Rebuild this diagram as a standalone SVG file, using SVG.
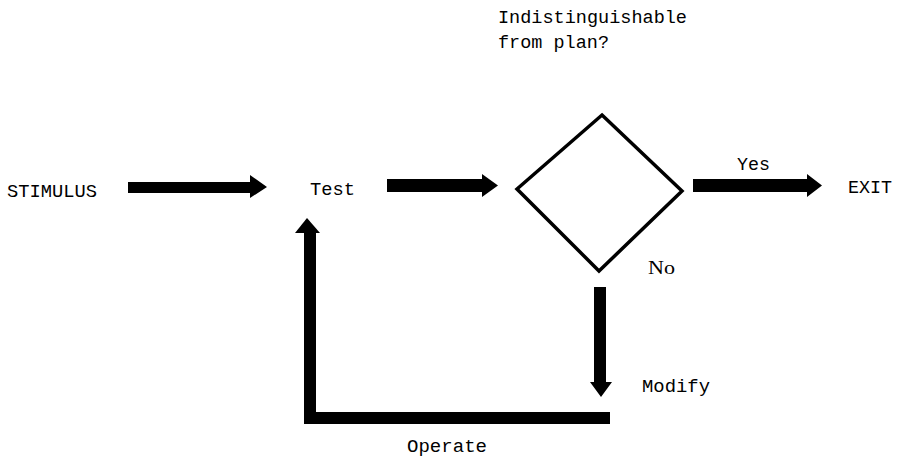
<svg xmlns="http://www.w3.org/2000/svg" width="897" height="457" viewBox="0 0 897 457">
  <style>
    .lbl { font-family: "Liberation Mono", "Courier New", monospace; font-size: 19px; fill: #000; }
    .serif { font-family: "Liberation Serif", "Times New Roman", serif; font-size: 19px; fill: #000; }
    .arrow { fill: #000; }
    .decision { fill: #fff; stroke: #000; stroke-width: 3.5; stroke-linejoin: miter; }
    .loop { fill: none; stroke: #000; stroke-width: 12; stroke-linejoin: miter; }
  </style>
  <rect width="897" height="457" fill="#fff"/>

  <!-- thick block arrows and the feedback loop -->
  <g id="connectors">
    <polygon class="arrow" points="128,182 250,182 250,175 267,187 250,198 250,193 128,193"/>
    <polygon class="arrow" points="387,179 482,179 482,174 498,185.5 482,197 482,192 387,192"/>
    <polygon class="arrow" points="693,179 807,179 807,174 822,185.5 807,197 807,192 693,192"/>
    <polygon class="arrow" points="594,287 606,287 606,382 612,382 601,397 590,382 594,382"/>
    <path class="loop" d="M610,418 H310 V232"/>
    <polygon class="arrow" points="295,233 320,233 307,218"/>
  </g>

  <g id="stimulus">
    <text class="lbl" x="7" y="197" textLength="90" lengthAdjust="spacingAndGlyphs">STIMULUS</text>
  </g>

  <g id="test">
    <text class="lbl" x="310" y="195" textLength="45" lengthAdjust="spacingAndGlyphs">Test</text>
  </g>

  <g id="decision">
    <polygon class="decision" points="602,115 682,191 599,271 517,189"/>
    <text class="lbl" x="498" y="23" textLength="189" lengthAdjust="spacingAndGlyphs">Indistinguishable</text>
    <text class="lbl" x="498" y="48" textLength="111" lengthAdjust="spacingAndGlyphs">from plan?</text>
  </g>

  <g id="exit">
    <text class="lbl" x="848" y="193" textLength="44" lengthAdjust="spacingAndGlyphs">EXIT</text>
  </g>

  <!-- branch and step labels -->
  <g id="labels">
    <text class="lbl" x="737" y="170" textLength="33" lengthAdjust="spacingAndGlyphs">Yes</text>
    <text class="serif" x="648" y="274" textLength="27" lengthAdjust="spacingAndGlyphs">No</text>
    <text class="lbl" x="642" y="392" textLength="68" lengthAdjust="spacingAndGlyphs">Modify</text>
    <text class="lbl" x="407" y="452" textLength="80" lengthAdjust="spacingAndGlyphs">Operate</text>
  </g>
</svg>
